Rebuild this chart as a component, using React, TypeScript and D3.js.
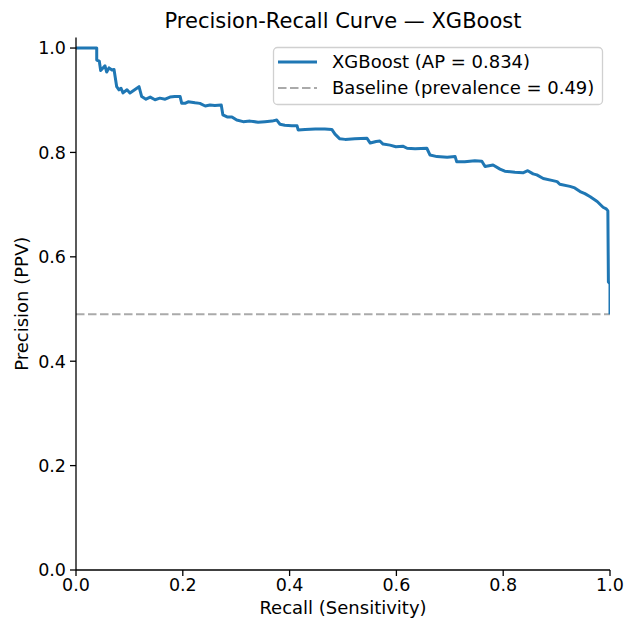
import React from "react";
import * as d3 from "d3";

const recall: number[] = [
  0, 0.0388, 0.0388, 0.0436, 0.0462, 0.0543, 0.0575, 0.0618, 0.0674, 0.0712,
  0.0762, 0.0805, 0.0843, 0.088, 0.0955, 0.101, 0.118, 0.123, 0.131, 0.139,
  0.148, 0.157, 0.167, 0.176, 0.185, 0.195, 0.198, 0.204, 0.21, 0.223,
  0.232, 0.242, 0.251, 0.26, 0.272, 0.275, 0.283, 0.292, 0.301, 0.313,
  0.326, 0.341, 0.354, 0.367, 0.376, 0.382, 0.391, 0.404, 0.414, 0.416,
  0.429, 0.448, 0.466, 0.479, 0.485, 0.494, 0.504, 0.522, 0.545, 0.551,
  0.562, 0.569, 0.575, 0.588, 0.599, 0.612, 0.62, 0.635, 0.657, 0.663,
  0.676, 0.695, 0.71, 0.713, 0.728, 0.747, 0.76, 0.766, 0.781, 0.794,
  0.803, 0.822, 0.837, 0.846, 0.856, 0.863, 0.875, 0.893, 0.901, 0.906,
  0.925, 0.934, 0.944, 0.953, 0.963, 0.976, 0.987, 0.993, 0.996, 0.997,
  1.0, 1.0,
];
const precision: number[] = [
  1.0, 1.0, 0.977, 0.975, 0.957, 0.966, 0.954, 0.962, 0.958, 0.959,
  0.926, 0.92, 0.923, 0.914, 0.92, 0.914, 0.926, 0.907, 0.902, 0.906,
  0.901, 0.904, 0.902, 0.906, 0.907, 0.907, 0.894, 0.894, 0.897, 0.895,
  0.894, 0.889, 0.891, 0.89, 0.891, 0.872, 0.868, 0.868, 0.862, 0.859,
  0.86, 0.858, 0.859, 0.86, 0.862, 0.854, 0.852, 0.851, 0.851, 0.843,
  0.844, 0.845, 0.845, 0.844, 0.835, 0.826, 0.825, 0.826, 0.827, 0.818,
  0.821, 0.822, 0.816, 0.814, 0.811, 0.812, 0.808, 0.807, 0.808, 0.795,
  0.792, 0.791, 0.792, 0.782, 0.782, 0.784, 0.783, 0.773, 0.776, 0.768,
  0.764, 0.762, 0.761, 0.765, 0.759, 0.757, 0.75, 0.746, 0.744, 0.739,
  0.735, 0.732, 0.725, 0.721, 0.715, 0.706, 0.695, 0.692, 0.688, 0.552,
  0.548, 0.49,
];
const prevalence = 0.49;
const ticks: number[] = [0, 0.2, 0.4, 0.6, 0.8, 1.0];
const title = "Precision-Recall Curve — XGBoost";
const xLabel = "Recall (Sensitivity)";
const yLabel = "Precision (PPV)";
const legendLabels: string[] = ["XGBoost (AP = 0.834)", "Baseline (prevalence = 0.49)"];

const W = 627;
const H = 618;
const L = 76, R = 610, T = 37.6, B = 570;
const FONT = "DejaVu Sans";
const BLUE = "#1f77b4";
const GRAY = "#aaaaaa";

export default function App() {
  const x = d3.scaleLinear().domain([0, 1]).range([L, R]);
  const y = d3.scaleLinear().domain([0, 1.02]).range([B, T]);
  const pts: [number, number][] = recall.map((r, i) => [r, precision[i]]);
  const line = d3
    .line<[number, number]>()
    .x((d) => x(d[0]))
    .y((d) => y(d[1]));

  return (
    <svg width={W} height={H} style={{ position: "absolute", left: 0, top: 0 }} fontFamily={FONT}>
      <rect width={W} height={H} fill="#fff" />
      <defs>
        <clipPath id="plotclip">
          <rect x={L} y={T} width={R - L} height={B - T} />
        </clipPath>
      </defs>
      <g clipPath="url(#plotclip)">
        <line
          x1={x(0)}
          x2={x(1)}
          y1={y(prevalence)}
          y2={y(prevalence)}
          stroke={GRAY}
          strokeWidth={2}
          strokeDasharray="8.5,3.5"
        />
        <path d={line(pts) || ""} fill="none" stroke={BLUE} strokeWidth={3} strokeLinejoin="round" />
      </g>
      {/* spines */}
      <line x1={L} x2={L} y1={T} y2={B} stroke="#000" strokeWidth={1.3} />
      <line x1={L} x2={R} y1={B} y2={B} stroke="#000" strokeWidth={1.3} />
      {/* x ticks */}
      {ticks.map((t) => (
        <g key={"x" + t}>
          <line x1={x(t)} x2={x(t)} y1={B} y2={B + 6} stroke="#000" strokeWidth={1.3} />
          <text x={x(t)} y={591} textAnchor="middle" fontSize={17.5} fill="#000">
            {t.toFixed(1)}
          </text>
        </g>
      ))}
      {/* y ticks */}
      {ticks.map((t) => (
        <g key={"y" + t}>
          <line x1={L - 6} x2={L} y1={y(t)} y2={y(t)} stroke="#000" strokeWidth={1.3} />
          <text x={L - 10} y={y(t)} dy="0.36em" textAnchor="end" fontSize={17.5} fill="#000">
            {t.toFixed(1)}
          </text>
        </g>
      ))}
      <text x={(L + R) / 2} y={614} textAnchor="middle" fontSize={18} fill="#000">
        {xLabel}
      </text>
      <text
        transform={`translate(28,${(T + B) / 2}) rotate(-90)`}
        textAnchor="middle"
        fontSize={18}
        fill="#000"
      >
        {yLabel}
      </text>
      <text x={(L + R) / 2} y={28} textAnchor="middle" fontSize={21} fill="#000">
        {title}
      </text>
      {/* legend */}
      <g>
        <rect x={273.5} y={47.5} width={329} height={57} rx={4} fill="#fff" fillOpacity={0.8} stroke="#d0d0d0" strokeWidth={1.3} />
        <line x1={278} x2={317} y1={62} y2={62} stroke={BLUE} strokeWidth={3} />
        <text x={332} y={62} dy="0.36em" fontSize={18} fill="#000">
          {legendLabels[0]}
        </text>
        <line x1={278} x2={317} y1={88} y2={88} stroke={GRAY} strokeWidth={2} strokeDasharray="8.5,3.5" />
        <text x={332} y={88} dy="0.36em" fontSize={18} fill="#000">
          {legendLabels[1]}
        </text>
      </g>
    </svg>
  );
}
